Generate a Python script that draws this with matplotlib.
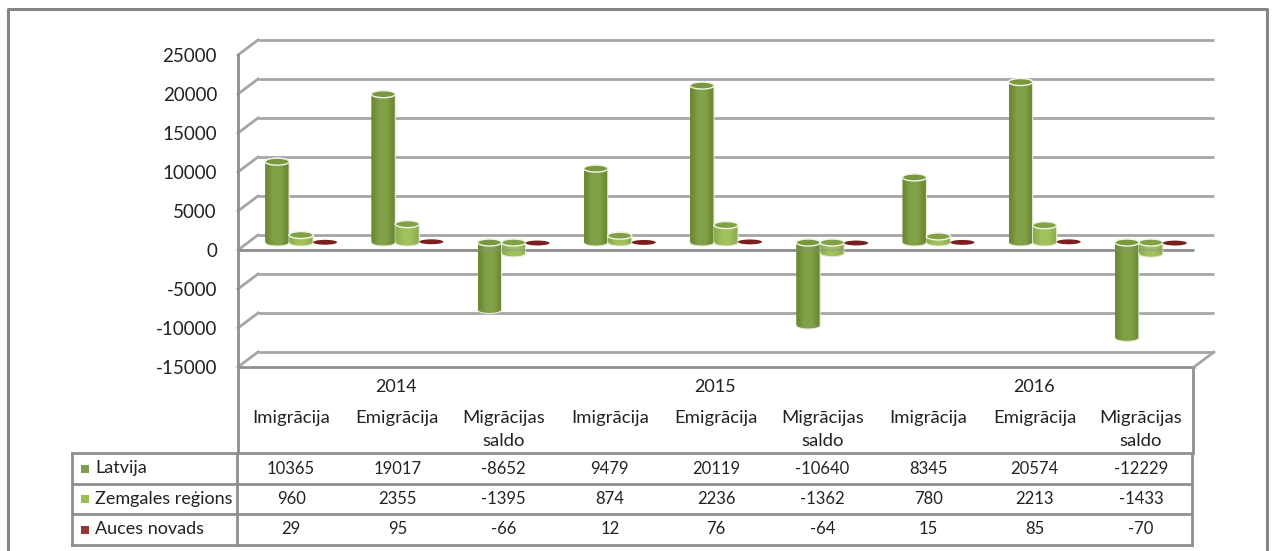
import numpy as np
import matplotlib
matplotlib.use("Agg")
import matplotlib.pyplot as plt
from matplotlib.colors import to_rgb
from matplotlib.patches import Ellipse, PathPatch, Rectangle
from matplotlib.path import Path
from matplotlib.transforms import Affine2D

years = ["2014", "2015", "2016"]
categories = ["Imigrācija", "Emigrācija", "Migrācijas\nsaldo"]
series_names = ["Latvija", "Zemgales reģions", "Auces novads"]
latvija = [10365, 19017, -8652, 9479, 20119, -10640, 8345, 20574, -12229]
zemgale = [960, 2355, -1395, 874, 2236, -1362, 780, 2213, -1433]
auces = [29, 95, -66, 12, 76, -64, 15, 85, -70]
y_ticks = [25000, 20000, 15000, 10000, 5000, 0, -5000, -10000, -15000]

# colours: edge, centre, top cap, legend
styles = [("#6a8733", "#82a247", "#7a9740", "#7f9c4a"),
          ("#8dad4f", "#a2c25e", "#82a044", "#9bbb59"),
          ("#7b1e1e", "#7b1e1e", "#7b1e1e", "#953735")]
grid_col = "#a6a6a6"
line_col = "#8f8f8f"
text_col = "#222222"
plt.rcParams["font.family"] = ["Lato", "DejaVu Sans"]

W, H = 1272, 551
X0, X1, Y_TOP, Y_BOT = 238, 1194, 55, 367
DX, DY = 20, 15      # depth of the 3d box in pixels
BAR_W, CAP_H = 24, 7

fig = plt.figure(figsize=(W / 100, H / 100), dpi=100)
bg = fig.add_axes([0, 0, 1, 1], zorder=0)
bg.set_xlim(0, W)
bg.set_ylim(H, 0)
bg.axis("off")

ax = fig.add_axes([X0 / W, 1 - Y_BOT / H, (X1 - X0) / W, (Y_BOT - Y_TOP) / H], zorder=1)
ax.set_xlim(0, 9)
ax.set_ylim(-15000, 25000)
ax.axis("off")
ax.patch.set_visible(False)

px_x = 9 / (X1 - X0)
px_y = 40000 / (Y_BOT - Y_TOP)


def depth_tr(dx, dy):
    return ax.transData + Affine2D().translate(dx, dy)


# back wall and side wall
back = depth_tr(DX, DY)
for t in y_ticks:
    ax.plot([0, 9], [t, t], transform=back, color=grid_col, lw=2, zorder=1, clip_on=False,
            solid_capstyle="butt")
    ax.plot([0, DX * px_x], [t, t + DY * px_y], color=grid_col, lw=2, zorder=1, clip_on=False)
    ax.text(-21 * px_x, t - 1.5 * px_y, str(t), ha="right", va="center", fontsize=13.5, color=text_col)

# floor lines in front
ax.plot([0, 9], [0, 0], color=line_col, lw=2, zorder=2, clip_on=False, solid_capstyle="butt")
ax.plot([0, 9], [0, 0], color=line_col, lw=1.5, alpha=0.45, zorder=20, clip_on=False,
        solid_capstyle="butt")
ax.plot([0, 9], [-15000, -15000], color=line_col, lw=2, zorder=2, clip_on=False)
ax.plot([9, 9 + DX * px_x], [-15000, -15000 + DY * px_y], color=grid_col, lw=2, zorder=2, clip_on=False)
ax.plot([0, 0], [-15000, 25000], color=line_col, lw=2, zorder=2, clip_on=False)


def cylinder(cx, val, st, z):
    rx = BAR_W / 2 * px_x
    ry = CAP_H / 2 * px_y
    tr = depth_tr(10, 7.5)
    top, bot = max(val, 0), min(val, 0)
    if abs(val) > 200:
        t = np.linspace(np.pi, 2 * np.pi, 30)
        xs = np.r_[cx + rx * np.cos(t), cx + rx * np.cos(t[::-1])]
        ys = np.r_[bot + ry * np.sin(t), top - ry * np.sin(t[::-1])]
        xy = np.c_[xs, ys]
        clip = PathPatch(Path(np.r_[xy, xy[:1]], closed=True), transform=tr)
        edge, mid = to_rgb(st[0]), to_rgb(st[1])
        grad = np.array([[edge, mid, mid, mid, edge]])
        im = ax.imshow(grad, extent=(cx - rx, cx + rx, bot - ry, top + ry), aspect="auto",
                       interpolation="bicubic", zorder=z, transform=tr)
        im.set_clip_path(clip)
        ax.plot(xs, ys, transform=tr, color="#e4ecd6", lw=0.8, zorder=z + 0.1, clip_on=False)
        ax.add_patch(Ellipse((cx, top), 2 * rx, 2 * ry, facecolor=st[2], edgecolor="#f2f5ea",
                             lw=1.0, transform=tr, zorder=z + 0.2, clip_on=False))
    else:
        ax.add_patch(Ellipse((cx, val), 2 * rx, CAP_H * 0.7 * px_y, facecolor=st[2], edgecolor="none",
                             transform=tr, zorder=z + 0.2, clip_on=False))


# bars
for s, vals in enumerate([latvija, zemgale, auces]):
    for i, v in enumerate(vals):
        cylinder(i + 0.5 + (s - 1) * BAR_W * px_x, v, styles[s], 3 + i + s * 0.3)

ax.set_xlim(0, 9)
ax.set_ylim(-15000, 25000)

# data table
col_x = [X0 + (i + 0.5) * (X1 - X0) / 9 for i in range(9)]
row_y = [453, 484, 514, 545]
tkw = dict(color=line_col, lw=2, solid_capstyle="projecting")
for y in row_y:
    bg.plot([72, 1192], [y, y], **tkw)
bg.plot([72, 72], [row_y[0], row_y[-1]], **tkw)
bg.plot([237, 237], [row_y[0], row_y[-1]], **tkw)
bg.plot([1192, 1192], [row_y[0], row_y[-1]], **tkw)
bg.plot([238, 238], [Y_BOT, row_y[0]], **tkw)
bg.plot([1193, 1193], [Y_BOT, row_y[0]], **tkw)

for i, y in enumerate(years):
    bg.text(col_x[3 * i + 1] - 1, 387, y, ha="center", va="center", fontsize=13, color=text_col)
for i, x in enumerate(col_x):
    label = categories[i % 3].split("\n")
    for j, part in enumerate(label):
        bg.text(x, 418 + 23 * j, part, ha="center", va="center", fontsize=13.3, color=text_col)

for r, (name, vals) in enumerate(zip(series_names, [latvija, zemgale, auces])):
    cy = (row_y[r] + row_y[r + 1]) / 2
    bg.add_patch(Rectangle((81, cy - 4), 8, 8, facecolor=styles[r][3], edgecolor="none"))
    bg.text(95, cy, name, ha="left", va="center", fontsize=13, color=text_col)
    for x, v in zip(col_x, vals):
        bg.text(x, cy, str(v), ha="center", va="center", fontsize=12, color=text_col)

# outer frame
frame = dict(color="#858585", lw=2.2)
bg.plot([8, 8, 1267, 1267], [H, 9, 9, H], **frame)

fig.savefig("out.png", dpi=100)
